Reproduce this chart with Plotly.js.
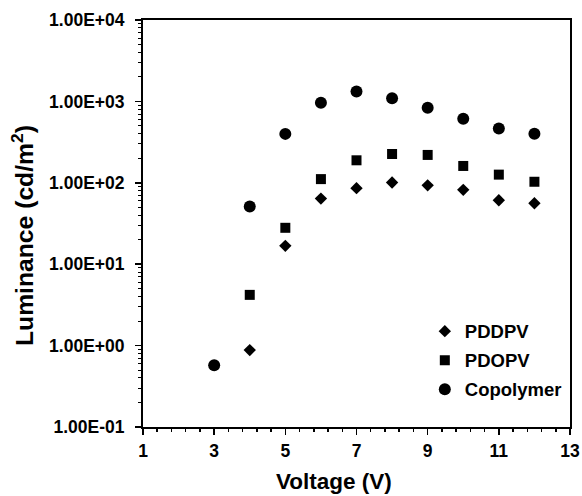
<!DOCTYPE html>
<html>
<head>
<meta charset="utf-8">
<script src="https://cdn.plot.ly/plotly-3.0.1.min.js"></script>
<style>html,body{margin:0;padding:0;background:#fff;}#chart{width:582px;height:496px;}</style>
</head>
<body>
<div id="chart"></div>
<script>
const voltage = [3, 4, 5, 6, 7, 8, 9, 10, 11, 12];
const pddpvV = [4, 5, 6, 7, 8, 9, 10, 11, 12];
const pddpv = [0.88, 16.8, 64, 86, 101, 93, 82, 61, 56];
const pdopvV = [4, 5, 6, 7, 8, 9, 10, 11, 12];
const pdopv = [4.2, 28, 111, 189, 226, 220, 161, 126, 103];
const copolymer = [0.575, 51, 399, 961, 1324, 1095, 834, 611, 464, 400];
const yTickVals = [0.1, 1, 10, 100, 1000, 10000];
const yTickText = ['1.00E-01', '1.00E+00', '1.00E+01', '1.00E+02', '1.00E+03', '1.00E+04'];
const xTickVals = [1, 3, 5, 7, 9, 11, 13];
const xTitle = 'Voltage (V)';
const yTitle = 'Luminance (cd/m<sup>2</sup>)';

const FONT = '"Liberation Sans"';
const traces = [
  {x: pddpvV, y: pddpv, name: 'PDDPV', legendgroup: 'a', type: 'scatter', mode: 'markers',
   marker: {symbol: 'diamond', size: 9.5, color: '#000'}},
  {x: pdopvV, y: pdopv, name: 'PDOPV', legendgroup: 'b', type: 'scatter', mode: 'markers',
   marker: {symbol: 'square', size: 10, color: '#000'}},
  {x: voltage, y: copolymer, name: 'Copolymer', legendgroup: 'c', type: 'scatter', mode: 'markers',
   marker: {symbol: 'circle', size: 12, color: '#000'}}
];
const layout = {
  width: 582, height: 496,
  margin: {l: 143, r: 12, t: 20, b: 69},
  paper_bgcolor: '#fff', plot_bgcolor: '#fff',
  font: {family: FONT, size: 18, color: '#000', weight: 'bold'},
  showlegend: true,
  legend: {x: 0.66, y: 0.281, xanchor: 'left', yanchor: 'top', bgcolor: 'rgba(0,0,0,0)',
           font: {family: FONT, size: 18.5, color: '#000', weight: 'bold'},
           traceorder: 'grouped', tracegroupgap: 2},
  xaxis: {
    range: [1, 13], tickmode: 'array', tickvals: xTickVals,
    ticks: 'outside', ticklen: 6, tickwidth: 1.5, tickcolor: '#000', ticklabelstandoff: 1,
    minor: {dtick: 0.4, tick0: 1, ticks: 'outside', ticklen: 3, tickwidth: 1.5, tickcolor: '#000'},
    showline: true, linewidth: 2, linecolor: '#000', mirror: true,
    showgrid: false, zeroline: false,
    tickfont: {family: FONT, size: 17.5, color: '#000', weight: 'bold'}
  },
  yaxis: {
    type: 'log', range: [-1, 4], tickmode: 'array', tickvals: yTickVals, ticktext: yTickText,
    ticks: 'outside', ticklen: 6, tickwidth: 1.5, tickcolor: '#000', ticklabelstandoff: 7,
    minor: {dtick: 'D1', ticks: 'outside', ticklen: 3, tickwidth: 1, tickcolor: '#000'},
    showline: true, linewidth: 2, linecolor: '#000', mirror: true,
    showgrid: false, zeroline: false,
    tickfont: {family: FONT, size: 17.5, color: '#000', weight: 'bold'}
  },
  annotations: [
    {text: xTitle, xref: 'paper', yref: 'paper', x: 0.447, y: -0.1327, xanchor: 'center', yanchor: 'middle',
     showarrow: false, font: {family: FONT, size: 22.5, color: '#000', weight: 'bold'}},
    {text: yTitle, xref: 'paper', yref: 'paper', x: -0.281, y: 0.4693, xanchor: 'center', yanchor: 'middle',
     textangle: -90, showarrow: false, font: {family: FONT, size: 24.7, color: '#000', weight: 'bold'}}
  ]
};
Plotly.newPlot('chart', traces, layout, {displayModeBar: false, staticPlot: true});
</script>
</body>
</html>
